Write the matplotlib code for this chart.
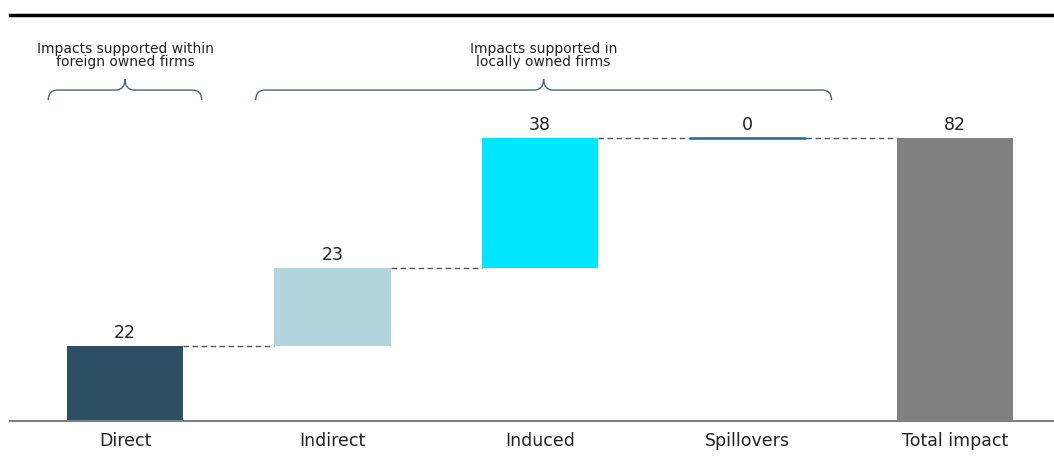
import matplotlib
matplotlib.use("Agg")
import matplotlib.pyplot as plt
from matplotlib.path import Path
from matplotlib.patches import PathPatch

# data
categories = ["Direct", "Indirect", "Induced", "Spillovers", "Total impact"]
contrib = [21.6, 22.8, 37.6, 0.0]
colors = ["#2c4f66", "#b2d4dd", "#00e6ff", "#1a6a94", "#808080"]

brace_groups = [
    ("Impacts supported within\nforeign owned firms", 0, 0),
    ("Impacts supported in\nlocally owned firms", 1, 3),
]

total = sum(contrib)
values = contrib + [total]
bottoms = []
run = 0
for v in contrib:
    bottoms.append(run)
    run += v
bottoms.append(0)
tops = [b + v for b, v in zip(bottoms, values)]

plt.rcParams["font.family"] = ["DejaVu Sans"]

W, H = 1054, 471
fig = plt.figure(figsize=(W / 100, H / 100), dpi=100)
ax = fig.add_axes([10 / W, 50 / H, 1044 / W, 406 / H])

px_per_unit = 283 / 82.0
ax.set_ylim(0, 406 / px_per_unit)
ax.set_xlim(-0.554, 4.477)

x = list(range(len(categories)))
bw = 0.56
ax.bar(x, values, bottom=bottoms, width=bw, color=colors, zorder=2)
# zero-height spillover drawn as a line
ax.hlines(tops[3], x[3] - bw / 2, x[3] + bw / 2, color=colors[3], lw=1.8, zorder=3)

# connectors
for i in range(len(categories) - 1):
    ax.plot([x[i] + bw / 2, x[i + 1] - bw / 2], [tops[i], tops[i]],
            ls=(0, (4, 2.5)), color="#555555", lw=1, zorder=1)

for xi, t, v in zip(x, tops, values):
    ax.annotate(f"{v:.0f}", (xi, t), xytext=(0, 3), textcoords="offset points",
                ha="center", va="bottom", fontsize=12.5, color="#222222")


def brace(x0, x1, yb, ytip, yend, r=0.045):
    xm = (x0 + x1) / 2
    verts = [(x0, yend), (x0, yb), (x0 + r, yb),
             (xm - r, yb), (xm, yb), (xm, ytip),
             (xm, yb), (xm + r, yb),
             (x1 - r, yb), (x1, yb), (x1, yend)]
    codes = [Path.MOVETO, Path.CURVE3, Path.CURVE3,
             Path.LINETO, Path.CURVE3, Path.CURVE3,
             Path.CURVE3, Path.CURVE3,
             Path.LINETO, Path.CURVE3, Path.CURVE3]
    ax.add_patch(PathPatch(Path(verts, codes), fill=False, edgecolor="#4a6478",
                           lw=1, clip_on=False))


for label, i0, i1 in brace_groups:
    x0 = x[i0] - 0.37
    x1 = x[i1] + 0.405 if i1 != i0 else x[i1] + 0.37
    brace(x0, x1, 95.9, 99.1, 93.0)
    ax.text((x0 + x1) / 2, 106, label, ha="center", va="center",
            fontsize=10, color="#222222", linespacing=0.9)

for s in ["left", "right"]:
    ax.spines[s].set_visible(False)
ax.spines["top"].set_color("black")
ax.spines["top"].set_linewidth(2.5)
ax.spines["bottom"].set_color("#808080")
ax.spines["bottom"].set_linewidth(1.5)
ax.set_yticks([])
ax.set_xticks(x)
ax.set_xticklabels(categories, fontsize=12.5, color="#222222")
ax.tick_params(axis="x", length=0, pad=8)

fig.savefig("out.png", dpi=100)
